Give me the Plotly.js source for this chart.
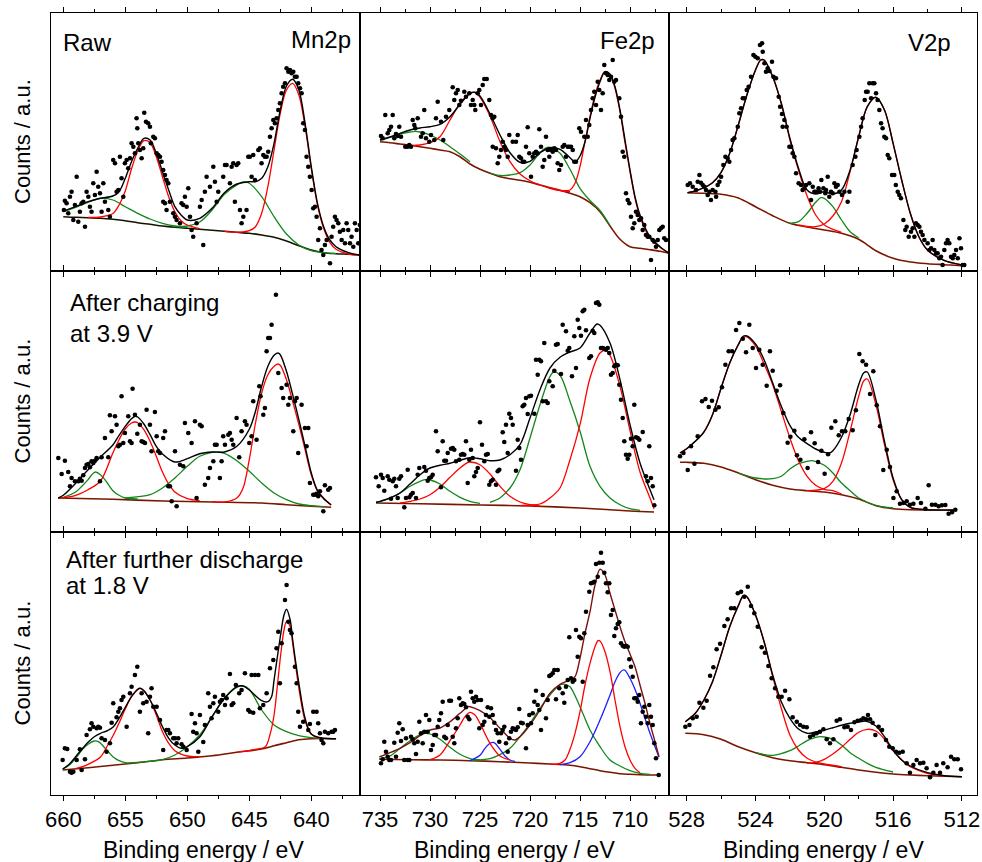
<!DOCTYPE html>
<html>
<head>
<meta charset="utf-8">
<script src="https://cdn.plot.ly/plotly-3.0.1.min.js"></script>
<style>html,body{margin:0;padding:0;background:#fff;}#chart{width:982px;height:862px;}</style>
</head>
<body>
<div id="chart"></div>
<script>
// ---------- Data (binding energy in eV, intensity in a.u.) ----------
// Panel 1: Mn2p Raw
const p1Dots=[[659.95,61],[659.87,70.3],[659.73,67.7],[659.60,57.7],[659.46,74.3],[659.33,79.3],[659.19,51],[659.06,66],[658.92,94.3],[658.79,49.3],[658.66,59.3],[658.52,67.7],[658.39,69.3],[658.25,44.3],[658.12,79.3],[657.98,74.3],[657.85,64.3],[657.72,59.3],[657.58,87.7],[657.45,76],[657.31,99.3],[657.18,84.3],[657.04,77.7],[656.91,59.3],[656.77,87.7],[656.64,69.3],[656.37,61],[656.24,54.3],[655.97,111],[655.83,107.7],[655.70,79.3],[655.56,81],[655.43,114.3],[655.30,92.7],[655.16,74.3],[655.03,107.7],[654.89,111],[654.76,102.7],[654.62,112.7],[654.49,127.7],[654.35,124.3],[654.22,117.7],[654.09,152.7],[654.03,142.7],[653.95,127.7],[653.82,121],[653.68,112.7],[653.55,122.7],[653.47,158.3],[653.33,149.3],[653.15,147.7],[653.01,144.3],[652.93,127.7],[652.74,134.3],[652.61,132.7],[652.47,117.7],[652.34,116],[652.20,114.3],[652.07,109.3],[651.94,101],[651.80,96],[651.67,91],[651.53,87.7],[651.94,69.3],[651.80,67.7],[651.67,61],[651.40,69.3],[651.13,57.7],[650.99,54.3],[650.86,51],[650.59,47.7],[650.46,67.7],[650.32,66],[650.19,74.3],[650.05,64.3],[649.92,82.7],[649.78,54.3],[649.65,41],[649.52,34.3],[649.25,47.7],[648.98,64.3],[648.84,71],[648.71,26],[648.58,79.3],[648.44,94.3],[648.17,84.3],[647.90,104.3],[647.77,89.3],[647.63,69.3],[647.50,79.3],[647.10,94.3],[646.96,106],[646.83,106],[646.56,87.7],[646.42,104.3],[646.29,107.7],[646.16,69.3],[646.02,106],[645.89,107.7],[645.75,61],[645.62,47.7],[645.48,54.3],[645.22,61],[645.08,114.3],[644.95,114.3],[644.81,94.3],[644.68,116],[644.54,91],[644.27,121],[644.14,122.7],[644.01,107.7],[643.87,116],[643.74,114.3],[643.60,114.3],[643.47,119.3],[643.33,134.3],[643.20,142.7],[643.06,151],[642.93,147.7],[642.80,152.7],[642.66,161],[642.53,167.7],[642.39,177.7],[642.26,184.3],[642.12,187.7],[641.99,202.7],[641.85,199.3],[641.72,201],[641.59,197.7],[641.45,199.3],[641.32,194.3],[641.18,194.3],[641.05,187.7],[640.91,182.7],[640.78,177.7],[640.65,147.7],[640.51,141],[640.38,114.3],[640.24,104.3],[640.11,94.3],[639.97,81],[639.84,62.7],[639.70,64.3],[639.57,54.3],[639.44,31],[639.30,42.7],[639.17,21],[639.03,16],[638.90,26],[638.76,31],[638.49,7.7],[638.36,34.3],[638.23,44.3],[638.09,54.3],[637.96,51],[637.82,47.7],[637.69,39.3],[637.55,31],[637.42,41],[637.28,27.7],[637.15,47.7],[637.02,41],[636.88,27.7],[636.75,34.3],[636.61,24.3],[636.48,47.7],[636.34,41],[636.21,27.7],[636.08,46]];
const p1Bg=[[660,54.3],[659,53.7],[658,53.3],[657,52.7],[656,51.7],[655,50.3],[654,48.3],[653,46.7],[652,45],[651,43.7],[650,42.7],[649,41.7],[648,40.7],[647,39.7],[646,38.7],[645,37.7],[644,36],[643,33.7],[642,30],[641,25.3],[640,21],[639,18.3],[638,17.3],[637,16.7],[636.1,16]];
const p1Env=[[660,60],[659,64.3],[658,69.3],[657,72.7],[656,75],[655.5,79.3],[655,92.7],[654.5,109.3],[654,122.7],[653.5,132.7],[653,131],[652.5,117.7],[652,99.3],[651.5,81],[651,64.3],[650.5,56],[650,51],[649,52.7],[648,62.7],[647,78.3],[646,87],[645,89.3],[644.5,89.3],[644,92.7],[643.5,104.3],[643,127.7],[642.5,161],[642,185],[641.5,191.7],[641,181],[640.5,147.7],[640,104.3],[639.5,67.7],[639,44.3],[638.5,31],[638,24.3],[637,18.3],[636.1,16]];
const p1Red1=[[658,53.5],[657,54],[656,57.5],[655.5,66],[655,80],[654.5,102],[654,120],[653.5,130.3],[653,128.3],[652.5,114.3],[652,94.3],[651.5,74.3],[651,59.3],[650.5,50.3],[650,46],[649,42.3]];
const p1Red2=[[647,39.7],[646,38.7],[645,40.3],[644.5,44.3],[644,57.7],[643.5,84.3],[643,121],[642.5,157.7],[642,181],[641.5,187.7],[641,176],[640.5,144.3],[640,102.7],[639.5,66],[639,42.7],[638.5,28.3],[638,21.7],[637,17],[636.1,16]];
const p1Green1=[[660,59.3],[659,63.7],[658,68.7],[657,72.7],[656,71],[655,64.3],[654,57.7],[653,52],[652,47.7],[651,45],[650,43.7]];
const p1Green2=[[651,44.3],[650,45],[649,49],[648,61],[647,76.7],[646,86],[645.5,89],[645,87.7],[644,74.3],[643,54.3],[642,37],[641,26],[640,20.3],[639,18.3],[638,17.3]];

// Panel 2: Fe2p Raw
const p2Dots=[[734.90,135],[734.73,132.7],[734.47,156],[734.23,137.7],[734.07,141],[733.90,144.3],[733.73,156],[733.57,132.7],[733.40,137],[733.23,135],[733.07,144.3],[732.90,134.3],[732.47,124.3],[732.23,124.3],[732.07,126],[731.90,124.3],[731.73,151],[731.57,146],[731.47,142.7],[731.23,152.7],[730.90,134.3],[730.73,137.7],[730.57,161],[730.40,132.7],[730.07,129.3],[729.90,136],[729.57,131],[729.40,152.7],[729.23,169.3],[728.90,149.3],[728.67,131],[728.40,154.3],[728.07,161],[727.73,183.7],[727.57,171],[727.40,177.7],[727.23,181],[727.07,166],[726.90,170.3],[726.57,179.3],[726.40,174.3],[726.07,177.7],[725.90,166],[725.73,171],[725.57,166],[725.47,161],[725.23,177.7],[725.07,181],[724.90,166],[724.73,186],[724.57,192],[724.33,192],[724.07,171],[723.90,156],[723.73,152.7],[723.57,154.3],[723.73,124.3],[723.40,122.7],[723.23,107.7],[723.07,114.3],[722.90,121],[722.73,129.3],[722.57,124.3],[722.40,121],[722.23,114.3],[722.07,136],[721.73,129.3],[721.40,129.3],[721.23,136],[721.07,114.3],[720.90,112.7],[720.73,109.3],[720.57,109.3],[720.40,124.3],[720.23,143.7],[720.07,117.7],[719.90,94.3],[719.73,114.3],[719.57,117.7],[719.40,119.3],[719.23,117.7],[719.07,141.7],[718.90,124.3],[718.73,104.3],[718.57,111],[718.40,134.3],[718.23,121],[718.07,114.3],[717.90,121],[717.73,119.3],[717.57,122.7],[717.40,121],[717.23,107.7],[717.07,101],[716.90,106],[716.73,124.3],[716.57,126],[716.40,114.3],[716.23,124.3],[716.07,124.3],[715.90,124.3],[715.73,121],[715.57,109.3],[715.40,109.3],[715.07,142.7],[714.90,139.3],[714.57,134.3],[714.40,151],[714.23,134.3],[714.07,146],[713.90,161],[713.73,172.7],[713.57,179.3],[713.40,166],[713.23,189.3],[713.07,181],[712.90,161],[712.73,177.7],[712.57,206],[712.40,197.7],[712.23,196],[712.07,191],[711.90,194.3],[711.73,211],[711.57,189.3],[711.40,191],[711.07,172.7],[710.90,154.3],[710.73,119.3],[710.57,114.3],[710.40,77.7],[710.23,71],[710.07,67.7],[709.90,54.3],[709.73,42.7],[709.57,47.7],[709.40,59.3],[709.23,56],[709.07,51],[708.90,52.7],[708.73,41],[708.57,46],[708.40,36],[708.23,34.3],[708.07,34.3],[707.90,11],[707.73,31],[707.57,29.3],[707.40,24.3],[707.23,31],[707.07,41],[706.90,42.7],[706.73,44.3],[706.57,32.7],[706.40,31]];
const p2Bg=[[735,129.3],[734,128.3],[733,127],[732,125.7],[731,124.3],[730,122.7],[729,121],[728,119.3],[727,114.3],[726,107],[725,101.7],[724,97.7],[723,94.3],[722,92.3],[721,90.7],[720,88.7],[719,86],[718,83.3],[717,80.7],[716,77.7],[715,74.3],[714,68.3],[713,59.3],[712,45],[711,31.7],[710,24.3],[709,22.7],[708,21.3],[707,19.7],[706.1,17.7]];
const p2Env=[[735,131],[734,134],[733,137.7],[732,141],[731,143],[730,144.3],[729,146.7],[728,154.3],[727,166.7],[726,177.7],[725.5,178.7],[725,175],[724,157],[723,136],[722,118.3],[721,108.7],[720,109.7],[719,118.3],[718,123.3],[717,121.7],[716,113.3],[715.5,109],[715,115],[714.5,129.3],[714,152.7],[713.5,173.7],[713,189.3],[712.5,199.3],[712,197],[711.5,184.3],[711,161],[710.5,131],[710,101],[709.5,74.3],[709,56],[708,34.3],[707,24.3],[706.1,17.7]];
const p2Red1=[[732,125.7],[731,126],[730,128.3],[729,134.3],[728,151],[727,167.7],[726,177.7],[725.5,178.3],[725,173.7],[724,155],[723,129.3],[722,109.3],[721,97],[720,90.3],[719,86],[718,82.7],[717,80.3],[716,79.3]];
const p2Red2=[[718,83.7],[717,80.7],[716,81],[715.5,87.7],[715,104.3],[714.5,129.3],[714,154.3],[713.5,176],[713,191],[712.5,199.3],[712,196],[711.5,182.7],[711,159.3],[710.5,128.3],[710,99.3],[709.5,72.7],[709,54.3],[708,32.7],[707,23.7],[706.1,17.7]];
const p2Green1=[[735,131],[734,133.7],[733,137],[732,139],[731.5,139.7],[731,139],[730,136],[729,131],[728,124.3],[727,117],[726,109.3]];
const p2Green2=[[724,98],[723,95.5],[722,96],[721,98.3],[720,106],[719,118.3],[718.5,122.7],[718,123.7],[717,117.7],[716,101.7],[715,82.7],[714,70.5],[713,60.5],[712,45.5]];

// Panel 3: V2p Raw
const p3Dots=[[527.94,86],[527.81,87.7],[527.65,84.3],[527.46,81],[527.36,89.3],[527.26,96],[527.17,88.3],[527.07,86],[526.97,84.3],[526.88,81],[526.78,76],[526.68,79.3],[526.59,71],[526.49,81],[526.33,79.3],[526.29,74.3],[526.20,86],[526.10,89.3],[526.00,94.3],[525.87,106],[525.75,114.3],[525.62,112.7],[525.52,109.3],[525.42,121],[525.33,131],[525.23,132.7],[525.03,144.3],[524.94,157.7],[524.84,162.7],[524.74,172.7],[524.65,172.7],[524.51,181],[524.40,184.3],[524.26,194.3],[524.12,216],[524.01,214.3],[523.87,212.7],[523.74,226],[523.62,227.7],[523.58,219.3],[523.48,207.7],[523.39,199.3],[523.29,202.7],[523.19,200],[523.04,209.3],[522.96,194.3],[522.81,192.7],[522.65,174.3],[522.57,164.3],[522.46,157],[522.42,144.3],[522.32,151],[522.19,144.3],[522.03,124.3],[521.93,124.3],[521.84,117.7],[521.74,114.3],[521.64,97.7],[521.49,87.7],[521.35,86],[521.26,81],[521.16,82.7],[521.06,86],[520.87,87.7],[520.77,71],[520.67,84.3],[520.58,79.3],[520.48,79.3],[520.33,82.7],[520.25,79.3],[520.17,91],[520.05,82.7],[519.94,77.7],[519.90,81],[519.80,94.3],[519.71,74.3],[519.61,79.3],[519.51,77.7],[519.41,87.7],[519.32,84.3],[519.22,86],[519.12,79.3],[518.97,76],[518.83,79.3],[518.64,69.3],[518.54,79.3],[518.35,106],[518.19,114.3],[518.12,121],[517.96,134.3],[517.86,144.3],[517.77,152.7],[517.65,171],[517.57,179.3],[517.48,179.3],[517.38,187.7],[517.28,172.7],[517.19,187.7],[517.09,187.7],[516.99,177.7],[516.90,171],[516.80,161],[516.70,147.7],[516.61,142.7],[516.51,134.3],[516.41,132.7],[516.31,116],[516.22,112.7],[516.06,96],[515.93,96],[515.84,86],[515.73,79.3],[515.64,76],[515.54,72.7],[515.40,51],[515.29,41],[515.21,44.3],[515.09,34.3],[514.96,39.3],[514.86,42.7],[514.76,34.3],[514.67,47.7],[514.57,46],[514.47,44.3],[514.38,39.3],[514.28,36],[514.18,31],[513.99,27.7],[513.89,21],[513.79,22.7],[513.70,31],[513.60,21],[513.50,17.7],[513.41,17.7],[513.31,12.7],[513.21,14.3],[513.12,6],[513.02,21],[512.92,27.7],[512.83,31],[512.73,27.7],[512.63,14.3],[512.53,12.7],[512.44,16],[512.34,21],[512.24,12.7],[512.14,32.7],[512.05,22.7],[511.95,6],[511.86,6]];
const p3Bg=[[527.95,78.3],[527,77.7],[526,76.7],[525,73],[524,64.3],[523,55.3],[522,47.7],[521,44],[520,41],[519,37.7],[518,31.7],[517,20.3],[516,12.7],[515,9],[514,7.3],[513,6.3],[512,5.3],[511.86,5.3]];
const p3Env=[[527.95,78.3],[527.5,80],[527,83.3],[526.5,88.3],[526,98.7],[525.5,117.7],[525,146],[524.5,176],[524,201],[523.7,211],[523.5,211],[523,194.3],[522.5,167.7],[522,132.7],[521.5,102.7],[521,81],[520.5,77],[520,79.3],[519.5,77],[519,81],[518.5,101],[518,134.3],[517.5,164.3],[517,173.7],[516.5,161],[516,127.7],[515.5,91],[515,57.7],[514.5,34.3],[514,21],[513,10.3],[512,6],[511.86,5.3]];
const p3Red1=[[527.95,78.3],[527.5,80],[527,83.3],[526.5,88.3],[526,98.7],[525.5,117.7],[525,146],[524.5,176],[524,201],[523.7,211],[523.5,211],[523,194.3],[522.5,167.7],[522,131],[521.5,101],[521,75],[520.5,56],[520,46],[519.5,41.7],[519,38.7]];
const p3Red2=[[521.5,46],[521,44.5],[520.5,44.3],[520,47],[519.5,55],[519,69.3],[518.5,99.3],[518,134.3],[517.5,164.3],[517,173.7],[516.5,161],[516,127.7],[515.5,91],[515,57.7],[514.5,34.3],[514,21],[513,10.3],[512,6],[511.86,5.3]];
const p3Green=[[522,47.7],[521.5,49.3],[521,57.7],[520.5,68.7],[520.2,73.3],[520,72.7],[519.5,64.3],[519,51],[518.5,39.3],[518,33.3]];

// Panel 4: Mn2p after charging at 3.9 V
const p4Dots=[[660.40,74],[660.13,58],[659.87,71.3],[659.60,60],[659.46,45.7],[659.33,54],[659.06,50.7],[658.79,50.7],[658.66,53.3],[658.52,51.3],[658.39,56.7],[658.25,64],[658.12,67.3],[657.98,68],[657.85,64.7],[657.72,70.7],[657.58,69],[657.45,71.3],[657.31,74],[657.04,50.7],[656.91,74.7],[656.64,94],[656.37,74.7],[656.24,116.7],[656.10,100.7],[655.83,115.7],[655.70,107.3],[655.56,85.7],[655.43,87.3],[655.30,135.7],[655.16,89],[655.03,99],[654.76,115.7],[654.62,90.7],[654.49,89],[654.41,143.3],[654.22,117.3],[654.03,98.3],[653.82,107.3],[653.68,90.7],[653.55,90],[653.41,89],[653.28,122.3],[653.01,107.3],[652.88,80.7],[652.61,120],[652.47,95.7],[652.34,80.7],[652.20,79],[651.94,94],[651.80,100.7],[651.53,45.7],[651.40,45.7],[651.26,30.7],[650.99,80.7],[650.86,25.7],[650.59,67.3],[650.32,65.7],[650.19,109],[649.92,99],[649.65,89],[649.38,110.7],[649.25,34],[648.98,107.3],[648.84,105.7],[648.58,47.3],[648.31,54],[648.17,64],[647.90,70.7],[647.77,87.3],[647.63,87.3],[647.37,54],[647.23,70.7],[647.10,95.7],[646.96,87.3],[646.69,97.3],[646.56,99],[646.42,92.3],[646.29,87.3],[646.02,114],[645.81,74.7],[645.62,100.7],[645.35,110.7],[645.22,107.3],[645.00,89],[644.81,95.7],[644.68,130.7],[644.41,92.3],[644.19,145.7],[644.09,135.7],[643.87,117.3],[643.74,124],[643.60,180.7],[643.47,194],[643.33,194],[643.20,207.3],[642.85,237.3],[642.66,159],[642.39,144],[642.26,134],[641.99,147.3],[641.85,127.3],[641.72,134],[641.45,100.7],[641.32,130.7],[641.18,134],[641.05,79],[640.78,127.3],[640.51,104],[640.38,85.7],[640.24,104],[640.11,49],[639.84,37.3],[639.70,37.3],[639.57,38.3],[639.44,35.7],[639.30,40.7],[639.03,20.7],[638.90,46.7],[638.63,42.3],[638.49,44]];
const p4Bg=[[660.4,34],[656,32.7],[652,31],[648,30],[644,29],[642,27.3],[640,25.7],[638.4,24.7]];
const p4Env=[[660.4,34],[660,36.7],[659,48.7],[658,62.3],[657,75],[656,87],[655.5,96.7],[655,105.7],[654.5,113.3],[654.2,115.7],[654,115],[653.5,108],[653,97.3],[652.5,85.7],[652,78],[651,70],[650,73.3],[649,78.3],[648,80],[647,80],[646,85.7],[645,102.7],[644.5,120.7],[644,145.7],[643.5,165.7],[643,176.7],[642.7,179],[642.5,177.3],[642,160.7],[641.5,137.3],[641,112.3],[640.5,85.7],[640,59],[639.5,41.3],[639,33.3],[638.4,27.3]];
const p4Red1=[[660.4,34],[660,34.3],[659,36.7],[658,42.3],[657,51],[656,79],[655.5,92.3],[655,103],[654.5,109],[654.2,110],[654,109.3],[653.5,102.3],[653,90.7],[652.5,75.7],[652,60],[651.5,48],[651,40],[650,33.3],[649,31.3]];
const p4Red2=[[648,30.3],[647,30],[646,34],[645.5,44],[645,72.3],[644.5,109],[644,139],[643.5,157.3],[643,165.7],[642.7,168],[642.5,166.7],[642,152.3],[641.5,130.7],[641,107.3],[640.5,82.3],[640,57.3],[639.5,41.3],[639,34],[638.4,26.7]];
const p4Green1=[[660.4,34],[660,34.7],[659,40],[658.5,45.7],[658,52.3],[657.7,57.3],[657.4,60],[657,57.3],[656.5,50],[656,41.3],[655.5,36.7],[655,34],[654,33]];
const p4Green2=[[655,34],[653,37.3],[652,44],[651,54],[650,65.7],[649,75.7],[648,79.7],[647.5,80],[647,78.7],[646,71.3],[645,60.7],[644,49],[643,39],[642,32.3],[641,28],[640,26.3],[639,25.3]];

// Panel 5: Fe2p after charging at 3.9 V
const p5Dots=[[735.40,54.7],[735.13,45.7],[734.90,57.3],[734.73,54],[734.57,41.3],[734.23,55.7],[734.07,52.3],[733.90,33.3],[733.73,50.7],[733.57,53.3],[733.40,45.7],[733.23,34],[733.07,53.3],[732.90,55.7],[732.57,24.7],[732.40,34],[732.23,62.3],[732.07,34.7],[731.90,37.3],[731.73,39],[731.40,34],[731.23,57.3],[731.07,64],[730.57,65],[730.40,61.3],[730.23,51.3],[730.07,54],[729.90,54.7],[729.73,57.3],[729.40,100.7],[729.23,80.7],[728.90,44.7],[728.73,90.7],[728.57,71.3],[728.40,71.3],[728.23,79],[727.90,83.3],[727.73,84],[727.57,82.3],[727.40,70.7],[727.07,72.3],[726.90,77.3],[726.73,78],[726.57,77.3],[726.40,90.7],[726.23,49],[726.07,72.3],[725.90,82.3],[725.73,74],[725.57,55.7],[725.40,60],[725.23,64],[725.00,109.7],[724.80,87.3],[724.57,70.7],[724.40,77.3],[724.23,78],[724.07,47.3],[723.90,50.7],[723.73,52.3],[723.40,47.3],[723.23,60.7],[723.07,62.3],[722.73,99.7],[722.57,90],[722.40,107.3],[722.23,79],[722.07,118.3],[721.90,114],[721.73,107.3],[721.40,61.3],[721.23,92.3],[721.07,84],[720.90,72.3],[720.73,125.7],[720.57,127.3],[720.40,134],[720.23,118],[720.07,135.7],[719.90,136.3],[719.57,118.3],[719.40,172.3],[719.23,157.3],[719.07,172.3],[718.90,170.7],[718.73,130.7],[718.57,189],[718.40,130.7],[718.23,129],[718.07,150.7],[717.73,145.7],[717.57,161.3],[717.40,187.3],[717.23,188],[716.90,158],[716.73,207.3],[716.40,200.7],[716.23,181.3],[716.07,184],[715.80,155.7],[715.57,195.7],[715.40,164],[715.23,212.3],[715.07,204],[714.90,196.3],[714.73,220.7],[714.57,222.3],[714.40,201.7],[714.07,174],[713.90,175.7],[713.73,201.3],[713.57,199],[713.40,229],[713.23,229.7],[713.07,227.3],[712.90,184],[712.73,184],[712.57,183.3],[712.40,182.3],[712.23,184],[712.07,179],[711.90,157.3],[711.73,159],[711.57,165.7],[711.40,167.3],[711.23,166.7],[711.07,147.3],[710.90,132.3],[710.73,114],[710.57,90.7],[710.40,77.3],[710.23,73.3],[710.07,77.3],[709.90,93.3],[709.73,85.7],[709.57,127.3],[709.40,94.7],[709.23,94],[709.07,92.3],[708.73,100],[708.40,55.7],[708.23,50.7],[708.07,85.7],[707.90,54],[707.73,45.7],[707.57,26.7]];
const p5Bg=[[735.4,29],[731,28.3],[725,27],[720,26],[715,24],[710,21],[707.6,20]];
const p5Env=[[735.4,29.7],[735,30.7],[734,34],[733,39],[732,48],[731,57.3],[730,64],[729,66.7],[728,68.7],[727,71.7],[726,74.3],[725,73.3],[724,71.3],[723,72],[722,77.3],[721,87.3],[720,114],[719,142.3],[718,164],[717,174.7],[716,180],[715,184],[714,199],[713.3,208],[713,206.7],[712,189],[711,152.3],[710,107.3],[709,69],[708,42.3],[707.6,32.3]];
const p5Red1=[[733,29],[732,30.7],[731,33],[730,37.3],[729,44.7],[728,54.7],[727,64],[726.2,69.7],[726,70],[725,67.3],[724,58],[723,45.7],[722,35.7],[721,30],[720,27.3],[719,26]];
const p5Red2=[[721,26.3],[720,27],[719,28],[718,34],[717,44],[716,72.3],[715,107.3],[714,154],[713,179],[712.5,181.7],[712,176.7],[711,145.7],[710,101.3],[709,60],[708,34],[707.6,23.3]];
const p5Green1=[[735.4,29.7],[735,30.3],[734,34],[733,39],[732,45.7],[731,50.7],[730.5,52.3],[730,52],[729,48],[728,40.7],[727,34.7],[726,30.7],[725,28.7]];
const p5Green2=[[724,29.7],[723,34],[722,44],[721,62.3],[720,94],[719,127.3],[718,155.7],[717.6,160],[717,156.7],[716,130.7],[715,100.7],[714,65.7],[713,45.7],[712,34],[711,27.3],[710,23.3],[709,21.7]];

// Panel 6: V2p after charging at 3.9 V
const p6Dots=[[528.39,75.7],[528.19,79],[527.94,62],[527.75,85.7],[527.55,68.3],[527.36,95.7],[527.11,130.7],[526.91,133],[526.72,125],[526.53,131.3],[526.33,122.3],[526.14,124.7],[525.95,144.7],[525.75,167.3],[525.56,180.7],[525.36,180.7],[525.13,202],[524.94,209],[524.74,193.3],[524.55,179.7],[524.36,207.3],[524.16,184],[523.97,164],[523.78,182.3],[523.58,167.3],[523.35,146.3],[523.16,180.7],[523.00,161.3],[522.77,141.3],[522.57,146.7],[522.38,119],[522.13,89.3],[521.97,95.3],[521.74,101.3],[521.59,76.7],[521.39,72.3],[521.16,92.7],[520.97,64],[520.77,99.7],[520.56,88.7],[520.36,70],[520.17,81.3],[519.98,58.3],[519.78,77.7],[519.59,104.3],[519.36,110.7],[519.16,96.7],[518.97,100.7],[518.78,100.7],[518.58,113],[518.35,101.7],[518.16,121.7],[517.96,178],[517.77,170.7],[517.57,167.3],[517.34,138],[517.15,160.7],[516.95,126.7],[516.76,105.7],[516.57,62],[516.37,82.3],[516.18,65],[515.98,34],[515.79,40.7],[515.60,28.3],[515.40,29],[515.21,30.7],[515.02,27.3],[514.82,28.3],[514.57,34],[514.38,29],[514.12,23.3],[513.93,46.7],[513.74,27.3],[513.54,27.3],[513.35,25.7],[513.16,26.7],[512.96,27],[512.77,18.3],[512.57,19.7],[512.38,22.3]];
const p6Bg=[[528.39,69.7],[528,69.7],[527,68.7],[526,65],[525,59],[524,52.3],[523,46.7],[522,43],[521,41.3],[520,40],[519,37.3],[518,33],[517,26.3],[516,23.3],[515,22.3],[513,22],[512.3,22]];
const p6Env=[[528.39,79],[528,83.3],[527.5,90.7],[527,100],[526.5,117.3],[526,144],[525.5,169],[525,187.3],[524.7,196],[524.5,196],[524,188],[523.5,172.3],[523,149],[522.5,125.7],[522,106.7],[521.5,94.7],[521,88.3],[520.5,83],[520,79.7],[519.7,79],[519.5,81.3],[519,94.7],[518.5,117.3],[518,147.3],[517.7,159.3],[517.5,160],[517,132.3],[516.5,90.7],[516,54],[515.5,32.3],[515,24.7],[514,22.3],[512.3,22]];
const p6Red1=[[528.39,79],[528,83.3],[527.5,90.7],[527,100],[526.5,117.3],[526,144],[525.5,169],[525,187.3],[524.7,195],[524.5,195],[524,186],[523.5,168],[523,147.3],[522.5,120.7],[522,94],[521.5,71.3],[521,55.7],[520.5,46.7],[520,42.7],[519.5,41.3],[519,38]];
const p6Red2=[[521,41.3],[520,43.3],[519.5,50.7],[519,69],[518.5,100.7],[518,135.7],[517.7,151.3],[517.5,153],[517,127.3],[516.5,87.3],[516,52.3],[515.5,32.3],[515,24.7],[514,22.3]];
const p6Green=[[525,59],[524,54],[523,53.3],[522.5,55.7],[522,63],[521.5,68.3],[521,70.7],[520.7,71.3],[520,66.7],[519.5,59],[519,49],[518.5,41.3],[518,34],[517,26.7],[516,24]];

// Panel 7: Mn2p after further discharge at 1.8 V
const p7Dots=[[660.05,35],[659.87,46.7],[659.68,46],[659.46,23.3],[659.33,22.3],[659.19,23.3],[658.92,35],[658.66,45.7],[658.52,25],[658.25,35.7],[658.12,60],[657.85,65.7],[657.72,71.7],[657.58,68.3],[657.31,66.7],[657.18,68.3],[657.04,67.3],[656.91,56.7],[656.64,55],[656.51,43.3],[656.24,51.7],[656.10,72.3],[655.97,91.7],[655.70,77.7],[655.56,83.3],[655.43,86.7],[655.30,95],[655.16,98.3],[654.89,68.3],[654.62,101.7],[654.49,108.3],[654.22,120],[654.03,128.3],[653.82,83.3],[653.68,101.7],[653.55,91.7],[653.28,93.3],[653.15,61.7],[653.01,98.3],[652.88,106.7],[652.74,88.3],[652.47,88.3],[652.20,75],[651.94,45],[651.67,65],[651.53,65],[651.40,61.7],[651.13,56.7],[650.99,56.7],[650.86,51.7],[650.73,56.7],[650.46,50.7],[650.32,48.3],[650.05,45],[649.65,81],[649.52,63.3],[649.38,71.7],[649.25,61.7],[649.11,43.3],[648.98,80],[648.71,53],[648.58,70],[648.31,101.7],[648.17,88.3],[648.04,76.7],[647.90,91.7],[647.77,98.3],[647.50,83.3],[647.37,93.3],[647.23,95],[647.10,100],[646.96,90],[646.83,96.7],[646.56,121],[646.42,90],[646.29,91.7],[646.08,110],[645.81,101.7],[645.62,105],[645.35,121.7],[645.08,85],[644.95,83.3],[644.81,120],[644.68,82.3],[644.54,120],[644.27,120],[644.14,86.7],[643.87,90],[643.60,101.7],[643.33,126.7],[643.06,135],[642.80,146.7],[642.66,163.3],[642.53,111.7],[642.39,151.7],[642.12,195],[641.99,210],[641.85,173.3],[641.72,165],[641.59,161.7],[641.32,128.3],[641.18,111.7],[641.05,83.3],[640.91,68.3],[640.65,73.3],[640.24,65],[640.11,71],[639.84,83.3],[639.57,83.3],[639.44,71.7],[639.30,61.7],[639.17,55],[639.03,51.7],[638.90,63.3],[638.63,61.7],[638.36,63.3],[638.23,63.3],[638.09,65]];
const p7Bg=[[660.05,25],[658,27.3],[656,29.7],[654,32.3],[652,35.3],[650,37],[648,39.3],[646,42.7],[644,46],[643,49.3],[642,52.3],[641,55.3],[640,56.3],[638,56.3]];
const p7Env=[[660.05,26],[659.5,31],[659,38.3],[658.5,45.7],[658,52.7],[657.5,58.3],[657,61.7],[656.5,64],[656,67.7],[655.5,76.7],[655,87.7],[654.5,98.3],[654,105.7],[653.8,106.7],[653.5,104.3],[653,95],[652.5,82.3],[652,68.3],[651.5,56.7],[651,50],[650.5,46.7],[650,48.3],[649,58],[648,78.3],[647,96.7],[646,108.3],[645.5,109],[645,105],[644,94.3],[643.5,93.3],[643.2,98.3],[643,115],[642.5,158],[642.2,180],[642,185.7],[641.7,175],[641.5,155],[641,111.7],[640.5,76.7],[640,61],[639,56.7],[638,56.3]];
const p7Red1=[[659,26.3],[658,30.7],[657,38],[656.5,48],[656,59],[655.5,72],[655,86],[654.5,98.3],[654,105.3],[653.8,106.7],[653.5,104.3],[653,95],[652.5,80],[652,63.3],[651.5,51.7],[651,44.3],[650,39],[649,38.3]];
const p7Red2=[[646,42.7],[644.5,45.7],[643.7,48.3],[643.3,61.7],[643,80],[642.7,113.3],[642.5,136.7],[642.2,165],[642,173.3],[641.7,168.3],[641.5,151.7],[641,106.7],[640.5,74.3],[640,61],[639.5,57.3],[639,56.3]];
const p7Green1=[[660.05,25.7],[659.5,30],[659,36.7],[658.5,45],[658,50.7],[657.5,54],[657.2,53.7],[657,51.7],[656.5,45],[656,38.3],[655.5,34.3],[655,32.3],[654,32.5]];
const p7Green2=[[654,32.7],[652,35.3],[651,40],[650,48.3],[649,60],[648,78.3],[647,96.7],[646,107.7],[645.5,109],[645,105.7],[644,85],[643,70],[642,63.3],[641,59.3],[640,57.3],[639,56.3]];

// Panel 8: Fe2p after further discharge at 1.8 V
const p8Dots=[[734.90,31.7],[734.73,35.7],[734.57,53.3],[734.40,43.3],[734.23,38.3],[734.07,35],[733.90,35],[733.57,52.3],[733.40,38.3],[733.23,62.3],[733.07,71.7],[732.90,54],[732.73,65.7],[732.57,35],[732.40,56.7],[732.23,35],[732.07,35],[731.90,58.3],[731.73,55.7],[731.57,51.7],[731.40,41],[731.23,53.3],[731.07,73.3],[730.90,61.7],[730.73,51.7],[730.57,63.3],[730.40,80],[730.23,63.3],[730.07,75],[729.90,45],[729.73,50],[729.57,60],[729.40,60],[729.23,68.3],[729.07,75],[728.90,81.7],[728.73,93.3],[728.57,58.3],[728.40,56.7],[728.23,70],[728.07,94.3],[727.90,94.3],[727.73,58.3],[727.57,51.7],[727.40,66.7],[727.23,76.7],[727.07,96.7],[726.90,90],[726.73,91.7],[726.57,91],[726.40,87.7],[726.23,78.3],[726.07,75.7],[725.90,103.3],[725.73,96.7],[725.57,93.3],[725.40,98.3],[725.23,95],[725.07,66.7],[724.90,95],[724.73,70],[724.57,73.3],[724.40,80],[724.23,87.7],[724.07,78.3],[723.90,86.7],[723.73,80],[723.57,72.3],[723.40,65],[723.23,61.7],[723.07,53.3],[722.90,61.7],[722.73,65],[722.57,68.3],[722.40,51.7],[722.23,43.3],[722.07,56.7],[721.90,63.3],[721.73,66.7],[721.57,66],[721.40,65],[721.23,67.7],[721.07,86],[720.90,72.3],[720.73,71.7],[720.40,46.7],[720.23,70],[720.07,80],[719.90,71.7],[719.73,81.7],[719.57,93.3],[719.40,104.3],[719.23,90],[719.07,85],[718.90,65],[718.73,100],[718.40,76.7],[718.23,95],[718.07,119],[717.90,120],[717.73,121.7],[717.57,125],[717.40,95.7],[717.23,125],[717.07,106.7],[716.73,101.7],[716.57,92.3],[716.40,108.3],[716.23,115],[716.07,157.7],[715.90,116.7],[715.73,113.3],[715.57,115],[715.40,165],[715.23,138.3],[715.07,158.3],[714.90,156.7],[714.73,113.3],[714.57,161.7],[714.40,183.3],[714.07,203.3],[713.90,211.7],[713.73,212.3],[713.57,213.3],[713.40,231],[713.23,218.3],[713.07,232.3],[712.90,242.3],[712.73,232.3],[712.57,222.3],[712.40,211.7],[712.23,202.7],[712.07,211.7],[711.90,180],[711.73,185],[711.57,159],[711.40,166.7],[711.23,171],[711.07,172.7],[710.90,151.7],[710.73,149.3],[710.57,148.3],[710.40,149.3],[710.23,148.3],[710.07,135.7],[709.90,128.3],[709.73,118.3],[709.57,96.7],[709.40,96.7],[709.23,93.3],[709.07,100],[708.90,71.7],[708.73,83.3],[708.57,88.3],[708.40,78.3],[708.23,71.7],[708.07,90],[707.90,78.3],[707.73,70],[707.57,51.7],[707.40,36.7],[707.13,20]];
const p8Bg=[[735.07,35.7],[732,35.3],[729,35],[726,34.3],[723,33.3],[720,32],[718,31],[716,29.7],[715,28.3],[714,26.3],[713,24.3],[712,22.7],[711,21.3],[710,20.7],[709,20.3],[707.1,20]];
const p8Env=[[735.07,38],[734,42.3],[733,46.7],[732,52.3],[731,59.3],[730,65],[729,67],[728,73.3],[727,81.7],[726.2,88.3],[726,88.3],[725,84.3],[724,77.3],[723,66.7],[722,56.7],[721.5,55],[721,58.3],[720,70],[719,85],[718,101.7],[717,110.7],[716,115],[715.5,118.3],[715,136.7],[714.5,161.7],[714,183.3],[713.5,210],[713,225.7],[712.5,220],[712,201.7],[711.5,185],[711,168.3],[710.5,153.3],[710,141],[709.5,128.3],[709,110],[708.5,91.7],[708,71.7],[707.5,53.3],[707.1,38.3]];
const p8Green1=[[735.07,36],[734,39],[733,46.7],[732,54.3],[731,60.3],[730.5,61.7],[730,61],[729,55.7],[728,47.7],[727,40.7],[726,36.3],[725,35]];
const p8Red1=[[730,35.3],[729,40],[728,54.3],[727,70],[726.5,78.3],[726,82.7],[725.5,80],[725,71.7],[724,51.7],[723,39],[722,35]];
const p8Blue1=[[726,34.3],[725,39.7],[724.5,46.7],[724,51.7],[723.7,52.7],[723.5,51.7],[723,45.7],[722.5,39],[722,35],[721.5,33.7]];
const p8Green2=[[726,34.3],[724,36.3],[723,40.3],[722,46.7],[721,58.3],[720,71.7],[719,86.7],[718,100],[717,110],[716.5,110.7],[716,108.3],[715,88.3],[714,65],[713,48.3],[712,35],[711,29],[710,24.3],[709,21.7],[708,20.7]];
const p8Red2=[[718,30.7],[717,31.7],[716.5,35],[716,45.7],[715.5,61.7],[715,83.3],[714.5,110],[714,131.7],[713.5,148.3],[713.2,154.3],[713,154],[712.5,143.3],[712,123.3],[711.5,95],[711,68.3],[710.5,48.3],[710,35],[709.5,26.7],[709,22.3]];
const p8Blue2=[[717,30.3],[716,32.3],[715,38.3],[714,53.3],[713,75],[712,100],[711.5,113.3],[711,122.3],[710.7,125],[710.5,124.7],[710,116.7],[709.5,105.7],[709,91.7],[708.5,76.7],[708,61.7],[707.5,48.3],[707.1,37.7]];

// Panel 9: V2p after further discharge at 1.8 V
const p9Dots=[[528.08,68.3],[527.84,70],[527.65,76.7],[527.42,78.3],[527.26,92.3],[527.03,87.3],[526.84,94.3],[526.64,119.3],[526.45,127.7],[526.26,145.7],[526.06,151.3],[525.81,169],[525.62,175.7],[525.42,186.7],[525.23,186.7],[525.03,201.7],[524.84,203.3],[524.65,198.3],[524.45,208.3],[524.26,189],[524.07,181.7],[523.87,168.3],[523.64,147.7],[523.45,142.3],[523.25,129],[523.06,116.7],[522.86,106.7],[522.67,98.3],[522.48,98.3],[522.28,104.3],[522.03,95.7],[521.84,77.7],[521.60,73.3],[521.41,70],[521.22,68.3],[521.02,67.7],[520.83,58.3],[520.64,60],[520.44,61.7],[520.25,63.3],[520.05,65.7],[519.86,55.7],[519.67,51.7],[519.47,55.7],[519.28,74.3],[519.09,75.7],[518.83,67.7],[518.64,68.3],[518.45,65],[518.25,72.7],[518.06,74.3],[517.86,75],[517.73,76.7],[517.57,75.7],[517.46,80],[517.34,75.7],[517.19,72.3],[517.03,60],[516.84,68.3],[516.64,65],[516.41,55],[516.22,48.3],[516.02,46.7],[515.83,43.3],[515.64,42.3],[515.44,43.3],[515.21,31.7],[515.02,22.3],[514.82,30],[514.63,35],[514.43,31.7],[514.24,32.3],[514.05,26.7],[513.85,17.7],[513.66,22.3],[513.47,30],[513.27,22.3],[513.08,31.7],[512.83,27.7],[512.63,38.3],[512.44,35.7],[512.24,35.7],[512.05,25.7]];
const p9Bg=[[528.08,61.7],[527,60.3],[526,55.7],[525,48.3],[524,42.3],[523,37.3],[522,34.3],[521,32.3],[520,30.3],[519,27.7],[518,25],[517,22.7],[516,21],[515,20],[514,19.3],[513,18.7],[512,18.3]];
const p9Env=[[528.08,73.3],[527.5,81.7],[527,95],[526.5,113.3],[526,140],[525.5,168.3],[525,189.3],[524.7,199.3],[524.5,198.3],[524,180],[523.5,153.3],[523,120],[522.5,93.3],[522,76.7],[521.5,66],[521,61.7],[520.5,63],[520,65],[519.5,67.3],[519,69.7],[518.5,71.7],[518,73],[517.6,74],[517,69],[516.5,58.3],[516,45],[515.5,35],[515,29],[514,22.3],[513,19.3],[512,18.3]];
const p9Red1=[[528.08,73.3],[527.5,81.7],[527,95],[526.5,113.3],[526,140],[525.5,168.3],[525,189.3],[524.7,199.3],[524.5,198.3],[524,180],[523.5,153.3],[523,118.3],[522.5,86.7],[522,60],[521.5,45],[521,36.7],[520.5,33],[520,31],[519,28.3]];
const p9Red2=[[521,31.7],[520.5,32.7],[520,35.7],[519.5,41],[519,47.7],[518.5,55.7],[518,62.7],[517.5,65.7],[517,64],[516.5,56],[516,44.3],[515.5,35],[515,28.3],[514,21.7],[513,19]];
const p9Green=[[524,42.3],[523,39.7],[522,44.3],[521.5,49],[521,54.3],[520.5,57.7],[520.2,58.3],[520,58],[519.5,55.7],[519,50],[518.5,42.3],[518,36.7],[517.5,31.7],[517,27.7],[516,23]];

// Tick and label text
const xTickStart=[660,735,528];
const xTickStep=[5,5,4];
const xRanges=[[660.99,636.11],[737.05,706.1],[529.03,511.12]];
const yMax=[258,261,263];
const panelTitles=["Mn2p","Fe2p","V2p"];
const stateLabels=[["Raw"],["After charging","at 3.9 V"],["After further discharge","at 1.8 V"]];
const xTitle="Binding energy / eV";
const yTitle="Counts / a.u.";

// ---------- Build figure ----------
const RED='#ff0000', GREEN='#13871a', BLUE='#1f1fff', BG='#7a1600', BLK='#000000';
const panels=[
  {dots:p1Dots,bg:p1Bg,bgc:'#141400',env:p1Env,envc:BLK,peaks:[[p1Green1,GREEN],[p1Green2,GREEN],[p1Red1,RED],[p1Red2,RED]]},
  {dots:p2Dots,bg:p2Bg,bgc:BG,env:p2Env,envc:BLK,peaks:[[p2Green1,GREEN],[p2Green2,GREEN],[p2Red1,RED],[p2Red2,RED]]},
  {dots:p3Dots,bg:p3Bg,bgc:BG,env:p3Env,envc:BLK,peaks:[[p3Green,GREEN],[p3Red2,RED],[p3Red1,RED]]},
  {dots:p4Dots,bg:p4Bg,bgc:BG,env:p4Env,envc:BLK,peaks:[[p4Green1,GREEN],[p4Green2,GREEN],[p4Red1,RED],[p4Red2,RED]]},
  {dots:p5Dots,bg:p5Bg,bgc:BG,env:p5Env,envc:BLK,peaks:[[p5Green1,GREEN],[p5Green2,GREEN],[p5Red1,RED],[p5Red2,RED]]},
  {dots:p6Dots,bg:p6Bg,bgc:BG,env:p6Env,envc:BLK,peaks:[[p6Green,GREEN],[p6Red2,RED],[p6Red1,RED]]},
  {dots:p7Dots,bg:p7Bg,bgc:BG,env:p7Env,envc:BLK,peaks:[[p7Green1,GREEN],[p7Green2,GREEN],[p7Red1,RED],[p7Red2,RED]]},
  {dots:p8Dots,bg:p8Bg,bgc:BG,env:p8Env,envc:'#7a1010',peaks:[[p8Green1,GREEN],[p8Green2,GREEN],[p8Blue1,BLUE],[p8Blue2,BLUE],[p8Red1,RED],[p8Red2,RED]]},
  {dots:p9Dots,bg:p9Bg,bgc:BG,env:p9Env,envc:BLK,peaks:[[p9Green,GREEN],[p9Red2,RED],[p9Red1,RED]]}
];

const W=982,H=862,ML=51,MR=5,MT=13,MB=67;
const PW=W-ML-MR, PH=H-MT-MB;
const colEdges=[51,359.5,669,977];
const rowEdges=[13,271,532,795];
const px2fx=p=>(p-ML)/PW;
const py2fy=p=>(H-MB-p)/PH;

const traces=[];
const layout={
  width:W,height:H,margin:{l:ML,r:MR,t:MT,b:MB,pad:0},
  paper_bgcolor:'#ffffff',plot_bgcolor:'#ffffff',showlegend:false,
  font:{family:'"Liberation Sans", Arial, sans-serif',color:'#000',size:22},
  annotations:[]
};
const ax=i=>i===0?'':String(i+1);
const XS=a=>a.map(p=>p[0]), YS=a=>a.map(p=>p[1]);
function addLine(i,data,color,width){
  traces.push({type:'scatter',mode:'lines',x:XS(data),y:YS(data),xaxis:'x'+ax(i),yaxis:'y'+ax(i),
    line:{color:color,width:width||1.4,shape:'spline',smoothing:0.9},hoverinfo:'skip',showlegend:false});
}
panels.forEach((p,i)=>{
  const r=Math.floor(i/3), c=i%3;
  addLine(i,p.bg,p.bgc,1.6);
  p.peaks.forEach(pk=>addLine(i,pk[0],pk[1],1.3));
  addLine(i,p.env,p.envc,1.4);
  traces.push({type:'scatter',mode:'markers',x:XS(p.dots),y:YS(p.dots),xaxis:'x'+ax(i),yaxis:'y'+ax(i),
    marker:{color:'#000',size:4.6,line:{width:0}},hoverinfo:'skip',showlegend:false});
  layout['xaxis'+ax(i)]={
    domain:[px2fx(colEdges[c]),px2fx(colEdges[c+1])],anchor:'y'+ax(i),
    range:xRanges[c],autorange:false,tickmode:'linear',tick0:xTickStart[c],dtick:xTickStep[c],
    ticks:'outside',ticklen:5,tickwidth:1,tickcolor:'#000',
    showline:true,linecolor:'#000',linewidth:1,mirror:'ticks',showgrid:false,zeroline:false,
    showticklabels:r===2,tickfont:{size:22,color:'#000'},
    minor:{tick0:xTickStart[c],dtick:xTickStep[c]/2,ticks:'outside',ticklen:3,tickwidth:1,tickcolor:'#000',showgrid:false}
  };
  layout['yaxis'+ax(i)]={
    domain:[py2fy(rowEdges[r+1]),py2fy(rowEdges[r])],anchor:'x'+ax(i),
    range:[0,yMax[r]],autorange:false,showline:true,linecolor:'#000',linewidth:1,mirror:true,
    showgrid:false,zeroline:false,showticklabels:false,ticks:''
  };
});

function ann(text,px,py,xa,size,angle){
  const a={text:text,xref:'paper',yref:'paper',x:px2fx(px),y:py2fy(py),xanchor:xa,yanchor:'middle',
    showarrow:false,font:{size:size,color:'#000'}};
  if(angle!==undefined)a.textangle=angle;
  layout.annotations.push(a);
}
// panel element labels
ann(panelTitles[0],353,39,'right',24);
ann(panelTitles[1],657,41,'right',24);
ann(panelTitles[2],953,42.5,'right',24);
// state labels
ann(stateLabels[0][0],61,42,'left',24);
ann(stateLabels[1][0],68,302.5,'left',24);
ann(stateLabels[1][1],68,333,'left',24);
ann(stateLabels[2][0],64,559,'left',24);
ann(stateLabels[2][1],64,585.5,'left',24);
// axis titles
[203,514,823].forEach(x=>ann(xTitle,x,850,'center',23));
[142,401.5,663.5].forEach(y=>ann(yTitle,22,y,'center',22,-90));

Plotly.newPlot('chart',traces,layout,{displayModeBar:false,staticPlot:true});
</script>
</body>
</html>
